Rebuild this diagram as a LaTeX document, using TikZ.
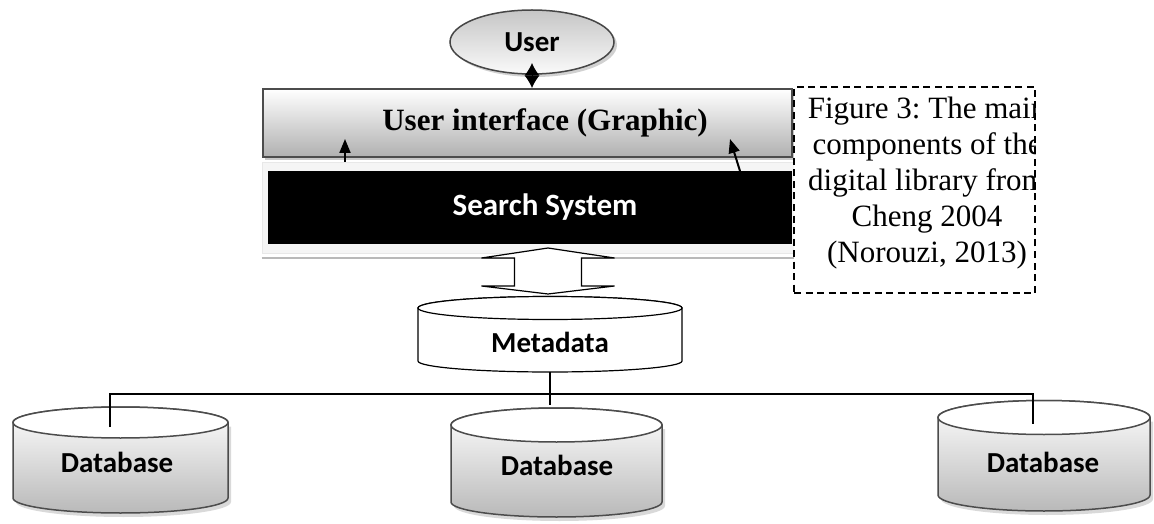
\documentclass[tikz,border=0pt]{standalone}
\usepackage{fontspec}
\setmainfont{Liberation Serif}
\newfontfamily\calib{Carlito}
\usetikzlibrary{arrows.meta,shadows,shapes.geometric}
% cylinder: #1 cx, #2 ytop, #3 ybot, #4 rx, #5 ry top, #6 ry bottom, #7 body style, #8 top style
\newcommand{\mycyl}[8]{%
  \path[#7] ({#1-#4},{#2}) -- ({#1-#4},{#3})
    arc[start angle=180,end angle=360,x radius=#4,y radius=#6]
    -- ({#1+#4},{#2})
    arc[start angle=0,end angle=180,x radius=#4,y radius=#5] -- cycle;
  \path[#8] (#1,#2) ellipse[x radius=#4,y radius=#5];
}
\newcommand{\mycylshadow}[6]{%
  \fill[gray!30] ({#1-#4+3},{#2-4}) -- ({#1-#4+3},{#3-4})
    arc[start angle=180,end angle=360,x radius=#4,y radius=#6]
    -- ({#1+#4+3},{#2-4}) -- cycle;
}
\begin{document}
\frenchspacing
\begin{tikzpicture}[x=1pt,y=1pt,
  sansbold/.style={font=\calib\bfseries\fontsize{29}{34}\selectfont},
  userell/.style={ellipse, draw=gray!55!black, line width=1.5pt, top color=gray!45, bottom color=gray!4,
    minimum width=164pt, minimum height=64pt, inner sep=0pt, sansbold,
    drop shadow={shadow xshift=3pt, shadow yshift=-3pt, fill=gray!60, opacity=0.6}},
  uibox/.style={rectangle, draw=gray!60!black, line width=1.5pt, top color=white, bottom color=gray!62,
    minimum width=529pt, minimum height=68pt, inner sep=0pt,
    font=\bfseries\fontsize{31}{36}\selectfont,
    drop shadow={shadow xshift=2pt, shadow yshift=-3pt, fill=gray!55, opacity=0.8}},
  framebox/.style={rectangle, fill=gray!8, draw=gray!18, line width=1pt, minimum width=533pt, minimum height=90pt, inner sep=0pt},
  searchbox/.style={rectangle, fill=black, text=white, minimum width=524pt, minimum height=73pt, inner sep=0pt,
    font=\calib\bfseries\fontsize{31}{36}\selectfont},
  capbox/.style={rectangle, draw=black, line width=1.8pt, dash pattern=on 7pt off 4.5pt, minimum width=241pt, minimum height=206pt, inner sep=0pt},
  captext/.style={align=center, inner sep=0pt, font=\fontsize{31}{36}\selectfont},
  dblabel/.style={sansbold, inner sep=0pt},
  conn/.style={draw=black, line width=1.2pt},
  uparrow/.style={draw=black, line width=2pt, -{Triangle[length=14pt,width=11pt]}},
  hollow/.style={draw=black, line width=1.2pt, fill=white, line join=miter}
]
\useasboundingbox (0,0) rectangle (1154,523);

% User
\node[userell] (user) at (532,481) {User};

% search frame + black box
\node[framebox] (frame) at (528.5,315) {};
\draw[gray!55, line width=2pt] (frame.south west) ++(0,-4) -- ++(533,0);
\node[searchbox] (search) at (530,315.5) {\hspace*{30pt}Search System};

% UI box
\node[uibox] (ui) at (527.5,400) {\hspace*{35pt}User interface (Graphic)};

% user <-> ui
\coordinate (ua) at (532,460);
\coordinate (ub) at (532,435);
\draw[line width=1pt, {Latex[length=12.5pt,width=15pt]}-{Latex[length=12.5pt,width=15pt]}] (ua) -- (ub);

% arrows search -> ui
\coordinate (la0) at (345,361);
\coordinate (la1) at (345,384);
\coordinate (ra0) at (740,352);
\coordinate (ra1) at (730,384);
\draw[uparrow] (la0) -- (la1);
\draw[uparrow] (ra0) -- (ra1);

% caption
\node[rectangle, fill=white, minimum width=241pt, minimum height=206pt, inner sep=0pt] (capbg) at (914.5,333) {};
\begin{scope}
  \clip (capbg.south west) rectangle (capbg.north east);
  \node[captext] (captxt) at (927,340) {Figure 3: The main\\components of the\\digital library from\\Cheng 2004\\(Norouzi, 2013)};
\end{scope}
\node[capbox] (cap) at (914.5,333) {};

% hollow double arrow
\draw[hollow] (548,275) -- (614.5,265) -- (581.5,265) -- (581.5,237) -- (614.5,237) -- (548,229)
  -- (481.5,237) -- (514.5,237) -- (514.5,265) -- (481.5,265) -- cycle;

% Metadata cylinder
\mycyl{550}{215}{162}{132}{11.5}{11}{draw=black, line width=1.2pt, fill=white}{draw=black, line width=1.2pt, fill=white}
\node[dblabel] (meta) at (550,181) {Metadata};

% database shadows & cylinders
\mycylshadow{120.5}{100.5}{25}{107.5}{15.5}{15}
\mycylshadow{556.5}{98}{21}{105.5}{17}{15}
\mycylshadow{1044}{105.5}{28}{106}{17}{16}
\mycyl{120.5}{100.5}{25}{107.5}{15.5}{15}{draw=gray!60!black, line width=1.5pt, top color=white, bottom color=gray!55}{draw=gray!60!black, line width=1.5pt, fill=white}
\mycyl{556.5}{98}{21}{105.5}{17}{15}{draw=gray!60!black, line width=1.5pt, top color=white, bottom color=gray!55}{draw=gray!60!black, line width=1.5pt, fill=white}
\mycyl{1044}{105.5}{28}{106}{17}{16}{draw=gray!60!black, line width=1.5pt, top color=white, bottom color=gray!55}{draw=gray!60!black, line width=1.5pt, fill=white}
\node[dblabel] (db1) at (117,61) {Database};
\node[dblabel] (db2) at (557,58) {Database};
\node[dblabel] (db3) at (1043,61) {Database};

% bus
\coordinate (mb) at (550,151);
\coordinate (bm) at (550,129);
\coordinate (b1) at (110,129);
\coordinate (b3) at (1033,129);
\coordinate (d1) at (110,96);
\coordinate (d2) at (550,118);
\coordinate (d3) at (1033,99);
\draw[conn] (mb) -- (bm);
\draw[conn] (d1) -- (b1) -- (b3) -- (d3);
\draw[conn] (bm) -- (d2);
\end{tikzpicture}
\end{document}
